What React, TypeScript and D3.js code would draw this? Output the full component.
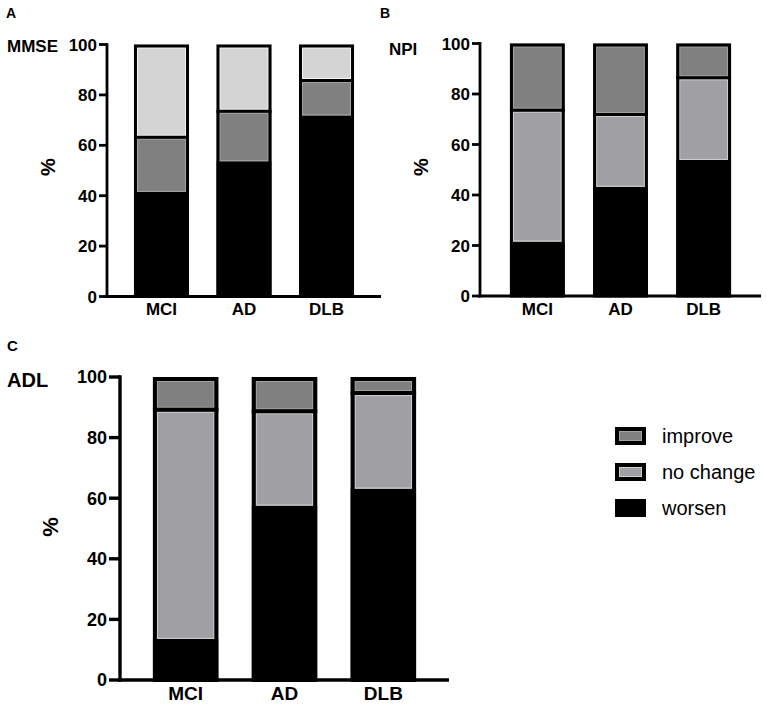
import React from "react";
import * as d3 from "d3";

const categories = ["MCI", "AD", "DLB"];
const seriesNames = ["worsen", "no change", "improve"];

// MMSE panel: bottom, middle, top segments (%)
const mmseWorsen = [41.5, 53.7, 71.9];
const mmseMiddle = [21.7, 19.8, 13.8];
const mmseTop = [36.8, 26.5, 14.3];

// NPI panel
const npiWorsen = [21.6, 43.3, 53.9];
const npiNoChange = [52.0, 28.6, 32.5];
const npiImprove = [26.4, 28.1, 13.6];

// ADL panel
const adlWorsen = [13.6, 57.6, 63.2];
const adlNoChange = [75.6, 31.1, 31.5];
const adlImprove = [10.8, 11.3, 5.3];

const yTicks = [0, 20, 40, 60, 80, 100];
const legendItems = ["improve", "no change", "worsen"];

const FONT = "'Liberation Sans', Arial, Helvetica, sans-serif";

const COL_BLACK = "#000000";
const COL_DARK = "#808080";
const COL_MID = "#a0a0a4";
const COL_LIGHT = "#d4d4d4";
const HILITE: Record<string, string> = {
  "#808080": "#a2a2a2",
  "#a0a0a4": "#cfcfd2",
  "#d4d4d4": "#f4f4f4",
};

type PanelProps = {
  series: number[][];
  colors: string[];
  x0: number;
  x1: number;
  pIn: number;
  pOut: number;
  yZero: number;
  yHundred: number;
  sw: number;
  axisW: number;
  tickLen: number;
  tickFont: number;
  catFont: number;
  catBaseline: number;
};

function Panel(p: PanelProps) {
  const x = d3.scaleBand<string>().domain(categories).range([p.x0, p.x1]).paddingInner(p.pIn).paddingOuter(p.pOut);
  const y = d3.scaleLinear().domain([0, 100]).range([p.yZero, p.yHundred]);
  const stackData = categories.map((c, i) => {
    const row: any = { cat: c };
    seriesNames.forEach((s, k) => (row[s] = p.series[k][i]));
    return row;
  });
  const stacked = d3.stack<any>().keys(seriesNames)(stackData);
  const bw = x.bandwidth();
  const sw = p.sw;
  return (
    <g>
      {categories.map((c, i) => {
        const left = x(c)!;
        const right = left + bw;
        const total = stacked[stacked.length - 1][i][1];
        return (
          <g key={c}>
            {stacked.map((layer, k) => {
              const [lo, hi] = layer[i];
              return (
                <rect key={"f" + k} x={left} width={bw} y={y(hi)} height={y(lo) - y(hi)} fill={p.colors[k]} />
              );
            })}
            {stacked.map((layer, k) => {
              if (k === 0) return null;
              const [lo, hi] = layer[i];
              const topEdge = k === stacked.length - 1 ? y(hi) + sw : y(hi) + sw / 2;
              const botEdge = y(lo) - (k === 1 ? 0 : sw / 2);
              const col = HILITE[p.colors[k]] || "#ffffff";
              return (
                <rect
                  key={"h" + k}
                  x={left + sw + 0.5}
                  width={bw - 2 * sw - 1}
                  y={topEdge + 0.5}
                  height={Math.max(0, botEdge - topEdge - 1)}
                  fill="none"
                  stroke={col}
                  strokeWidth={1}
                />
              );
            })}
            {stacked.map((layer, k) => {
              if (k < 2) return null;
              const lo = layer[i][0];
              return (
                <line key={"b" + k} x1={left} x2={right} y1={y(lo)} y2={y(lo)} stroke="#000" strokeWidth={sw} />
              );
            })}
            <rect
              x={left + sw / 2}
              y={y(total) + sw / 2}
              width={bw - sw}
              height={y(0) - y(total) - sw / 2}
              fill="none"
              stroke="#000"
              strokeWidth={sw}
            />
          </g>
        );
      })}
      {/* axes */}
      <line x1={p.x0} x2={p.x0} y1={y(0) + p.axisW / 2} y2={y(100) - p.axisW / 2} stroke="#000" strokeWidth={p.axisW} />
      <line x1={p.x0 - p.axisW / 2} x2={p.x1} y1={y(0)} y2={y(0)} stroke="#000" strokeWidth={p.axisW} />
      {yTicks.map((t) => (
        <g key={t}>
          <line x1={p.x0 - p.tickLen} x2={p.x0} y1={y(t)} y2={y(t)} stroke="#000" strokeWidth={p.axisW} />
          <text
            x={p.x0 - p.tickLen - 2}
            y={y(t)}
            dy="0.36em"
            textAnchor="end"
            fontFamily={FONT}
            fontWeight="bold"
            fontSize={p.tickFont}
          >
            {t}
          </text>
        </g>
      ))}
      {categories.map((c) => (
        <text
          key={c}
          x={x(c)! + bw / 2}
          y={p.catBaseline}
          textAnchor="middle"
          fontFamily={FONT}
          fontWeight="bold"
          fontSize={p.catFont}
        >
          {c}
        </text>
      ))}
    </g>
  );
}

export default function App() {
  const legendY = d3.scalePoint<string>().domain(legendItems).range([436, 508]);
  const legendColors = [COL_DARK, COL_MID, COL_BLACK];
  return (
    <svg width={766} height={709} style={{ position: "absolute", left: 0, top: 0, background: "#fff" }}>
      <rect width={766} height={709} fill="#fff" />
      {/* Panel A */}
      <text x={6} y={18} fontFamily={FONT} fontWeight="bold" fontSize={14}>A</text>
      <text x={7} y={52} fontFamily={FONT} fontWeight="bold" fontSize={17}>MMSE</text>
      <text transform="translate(55,167) rotate(-90)" textAnchor="middle" fontFamily={FONT} fontWeight="bold" fontSize={20}>%</text>
      <Panel
        series={[mmseWorsen, mmseMiddle, mmseTop]}
        colors={[COL_BLACK, COL_DARK, COL_LIGHT]}
        x0={107}
        x1={381}
        pIn={0.333}
        pOut={0.327}
        yZero={296.5}
        yHundred={44.5}
        sw={3}
        axisW={2.8}
        tickLen={8}
        tickFont={17}
        catFont={17}
        catBaseline={315}
      />
      {/* Panel B */}
      <text x={380} y={18} fontFamily={FONT} fontWeight="bold" fontSize={14}>B</text>
      <text x={389} y={55} fontFamily={FONT} fontWeight="bold" fontSize={17}>NPI</text>
      <text transform="translate(428,167) rotate(-90)" textAnchor="middle" fontFamily={FONT} fontWeight="bold" fontSize={20}>%</text>
      <Panel
        series={[npiWorsen, npiNoChange, npiImprove]}
        colors={[COL_BLACK, COL_MID, COL_DARK]}
        x0={480}
        x1={761}
        pIn={0.341}
        pOut={0.36}
        yZero={296}
        yHundred={43.5}
        sw={3}
        axisW={2.8}
        tickLen={8}
        tickFont={17}
        catFont={17}
        catBaseline={315}
      />
      {/* Panel C */}
      <text x={7} y={351} fontFamily={FONT} fontWeight="bold" fontSize={15}>C</text>
      <text x={7} y={387} fontFamily={FONT} fontWeight="bold" fontSize={20}>ADL</text>
      <text transform="translate(58,527) rotate(-90)" textAnchor="middle" fontFamily={FONT} fontWeight="bold" fontSize={22}>%</text>
      <Panel
        series={[adlWorsen, adlNoChange, adlImprove]}
        colors={[COL_BLACK, COL_MID, COL_DARK]}
        x0={120}
        x1={449}
        pIn={0.338}
        pOut={0.333}
        yZero={680}
        yHundred={377}
        sw={4}
        axisW={3.4}
        tickLen={11}
        tickFont={18}
        catFont={19}
        catBaseline={700}
      />
      {/* Legend */}
      {legendItems.map((name, i) => {
        const cy = legendY(name)!;
        const col = legendColors[i];
        return (
          <g key={name}>
            <rect x={615} y={cy - 9} width={31} height={18} fill={col} />
            {col !== COL_BLACK && (
              <>
                <rect x={619.5} y={cy - 4.5} width={22} height={9} fill="none" stroke={HILITE[col]} strokeWidth={1} />
                <rect x={617} y={cy - 7} width={27} height={14} fill="none" stroke="#000" strokeWidth={4} />
              </>
            )}
            <text x={662} y={cy} dy="0.35em" fontFamily={FONT} fontSize={20}>
              {name}
            </text>
          </g>
        );
      })}
    </svg>
  );
}
